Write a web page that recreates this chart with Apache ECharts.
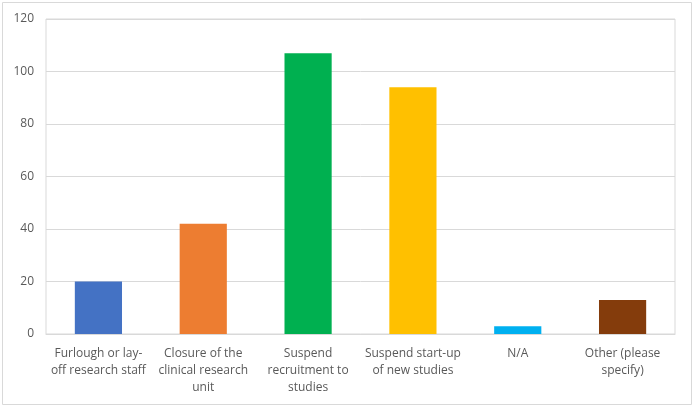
<!DOCTYPE html>
<html><head><meta charset="utf-8">
<script src="https://cdn.jsdelivr.net/npm/echarts@6/dist/echarts.min.js"></script>
<style>html,body{margin:0;padding:0;background:#fff;}#c{width:694px;height:407px;}</style>
</head><body><div id="c"></div>
<script>
const categories = ["Furlough or lay-\noff research staff", "Closure of the\nclinical research\nunit", "Suspend\nrecruitment to\nstudies", "Suspend start-up\nof new studies", "N/A", "Other (please\nspecify)"];
const values = [20, 42, 107, 94, 3, 13];
const colors = ["#4472C4", "#ED7D31", "#00B050", "#FFC000", "#00B0F0", "#843C0C"];
const yTicks = {min: 0, max: 120, interval: 20};

const chart = echarts.init(document.getElementById('c'), null, {renderer: 'canvas'});
chart.setOption({
  animation: false,
  graphic: [{type: 'rect', shape: {x: 2.5, y: 2.5, width: 689, height: 402}, style: {fill: 'none', stroke: '#d9d9d9', lineWidth: 1}, silent: true}],
  grid: {left: 46, right: 19, top: 19, bottom: 73, show: true, borderColor: '#d9d9d9', borderWidth: 1},
  xAxis: {
    type: 'category', data: categories,
    axisLine: {show: true, lineStyle: {color: '#d9d9d9'}},
    axisTick: {show: false},
    axisLabel: {color: '#595959', fontFamily: 'Open Sans', fontSize: 12, lineHeight: 17, margin: 11, interval: 0}
  },
  yAxis: {
    type: 'value', min: yTicks.min, max: yTicks.max, interval: yTicks.interval,
    axisLine: {show: false}, axisTick: {show: false},
    splitLine: {lineStyle: {color: '#d9d9d9'}},
    axisLabel: {color: '#595959', fontFamily: 'Open Sans', fontSize: 12, margin: 12}
  },
  series: [{
    type: 'bar', barWidth: '45%',
    data: values.map((v, i) => ({value: v, itemStyle: {color: colors[i]}}))
  }]
});
</script></body></html>
